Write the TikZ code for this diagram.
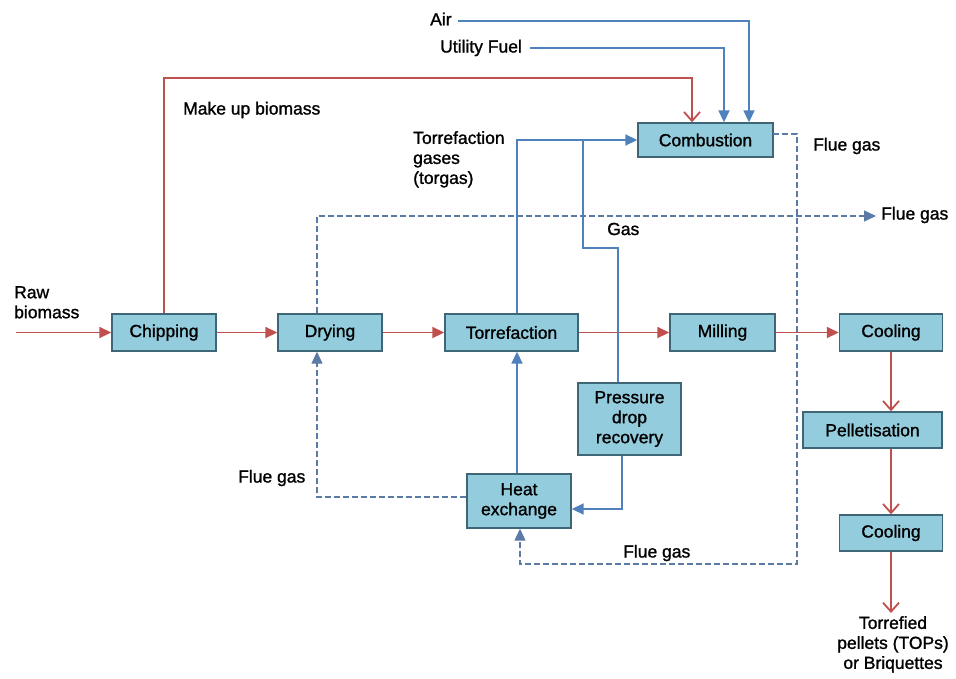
\documentclass[tikz,border=0pt]{standalone}
\usepackage{fontspec}
\setmainfont{Liberation Sans}[FakeBold=1.2]
\usetikzlibrary{arrows.meta}
\definecolor{boxfill}{HTML}{93CDDD}
\definecolor{boxedge}{HTML}{3E6676}
\definecolor{flowred}{HTML}{C0504D}
\definecolor{flowblue}{HTML}{4F81BD}
\definecolor{fluegrey}{HTML}{5B7BA6}
\begin{document}
\begin{tikzpicture}[x=1pt,y=-1pt,
  every node/.style={font=\fontsize{17.5}{20}\selectfont, inner sep=0pt},
  unit/.style={draw=boxedge, line width=1.4pt, fill=boxfill, align=center, minimum height=37pt},
  lbl/.style={align=left},
  solid red/.style={draw=flowred, line width=1.8pt, -{Triangle[length=12pt,width=11pt]}},
  drop red/.style={draw=flowred, line width=2pt, -{Straight Barb[length=9pt,width=16pt,line width=1.8pt]}},
  gas blue/.style={draw=flowblue, line width=1.8pt, -{Triangle[length=12pt,width=11pt]}},
  flue/.style={draw=fluegrey, line width=1.3pt, dash pattern=on 6pt off 3pt},
  flue arrow/.style={flue, -{Triangle[length=12pt,width=11pt]}}]
\useasboundingbox (0,0) rectangle (956,678);

% process units
\node[unit, minimum width=104pt] (chip) at (164,332.5) {Chipping};
\node[unit, minimum width=104pt] (dry) at (330,332.5) {Drying};
\node[unit, minimum width=133pt] (torr) at (511.5,332.5) {Torrefaction};
\node[unit, minimum width=105pt] (mill) at (722.5,332.5) {Milling};
\node[unit, minimum width=103pt] (coolA) at (891,332.5) {Cooling};
\node[unit, minimum width=139pt, minimum height=36pt] (pell) at (872.5,430) {Pelletisation};
\node[unit, minimum width=103pt, minimum height=36pt] (coolB) at (891,533) {Cooling};
\node[unit, minimum width=135pt, minimum height=34pt] (comb) at (705.5,140) {Combustion};
\node[unit, minimum width=103pt, minimum height=72pt] (pdr) at (629.5,419) {Pressure\\drop\\recovery};
\node[unit, minimum width=104pt, minimum height=54pt] (hx) at (519,501) {Heat\\exchange};

% text labels
\node[lbl, anchor=north west] (raw) at (14,286) {Raw\\biomass};
\node[anchor=west] (air) at (430,19) {Air};
\node[anchor=west] (fuel) at (440,48) {Utility Fuel};
\node[anchor=west] (mkup) at (183,110) {Make up biomass};
\node[lbl, anchor=north west] (tgas) at (413,131) {Torrefaction\\gases\\(torgas)};
\node[anchor=west] (gaslbl) at (607,229) {Gas};
\node[anchor=west] (flueA) at (813,146) {Flue gas};
\node[anchor=west] (flueB) at (881,215) {Flue gas};
\node[anchor=west] (flueC) at (238,478) {Flue gas};
\node[anchor=west] (flueD) at (623,553) {Flue gas};
\node[align=center, anchor=north] (prod) at (893,616) {Torrefied\\pellets (TOPs)\\or Briquettes};

% bend points
\coordinate (rawin) at (16,332.5);
\coordinate (mkturn) at (692,78);
\coordinate (airturn) at (749,21);
\coordinate (fuelturn) at (724,48);
\coordinate (tgx) at (517,140);
\coordinate (gsplit) at (583,140);
\coordinate (gA) at (583,248);
\coordinate (gB) at (618,248);
\coordinate (pdrout) at (622,509);
\coordinate (cstart) at (773,134);
\coordinate (cA) at (797,134);
\coordinate (cB) at (797,564);
\coordinate (cC) at (520,564);
\coordinate (hA) at (317,497);
\coordinate (dA) at (317,216);
\coordinate (dB) at (876,216);
\coordinate (prodtip) at (891,613);

% main solids line
\draw[solid red] (rawin) -- (chip.west);
\draw[solid red] (chip.east) -- (dry.west);
\draw[solid red] (dry.east) -- (torr.west);
\draw[solid red] (torr.east) -- (mill.west);
\draw[solid red] (mill.east) -- (coolA.west);
\draw[drop red] (coolA.south) -- (pell.north -| coolA.south);
\draw[drop red] (pell.south -| coolB.north) -- (coolB.north);
\draw[drop red] (coolB.south) -- (prodtip);
\draw[drop red] (chip.north) |- (mkturn) -- (comb.north -| mkturn);

% air, fuel and torrefaction gases
\draw[gas blue] (air.east) ++(6,2) -| (comb.north -| airturn);
\draw[gas blue] (fuel.east) ++(8,0) -| (comb.north -| fuelturn);
\draw[gas blue] (torr.north -| tgx) |- (comb.west);
\draw[draw=flowblue, line width=1.8pt] (gsplit) -- (gA) -- (gB) -- (pdr.north -| gB);
\draw[gas blue] (pdr.south -| pdrout) -- (pdrout) -- (hx.east |- pdrout);
\draw[gas blue] (hx.north -| tgx) -- (torr.south -| tgx);

% flue gas circuit
\draw[flue arrow] (cstart) -- (cA) -- (cB) -- (cC) -- (hx.south -| cC);
\draw[flue arrow] (hx.west |- hA) -- (hA) -- (dry.south -| hA);
\draw[flue arrow] (dry.north -| dA) -- (dA) -- (dB);
\end{tikzpicture}
\end{document}
